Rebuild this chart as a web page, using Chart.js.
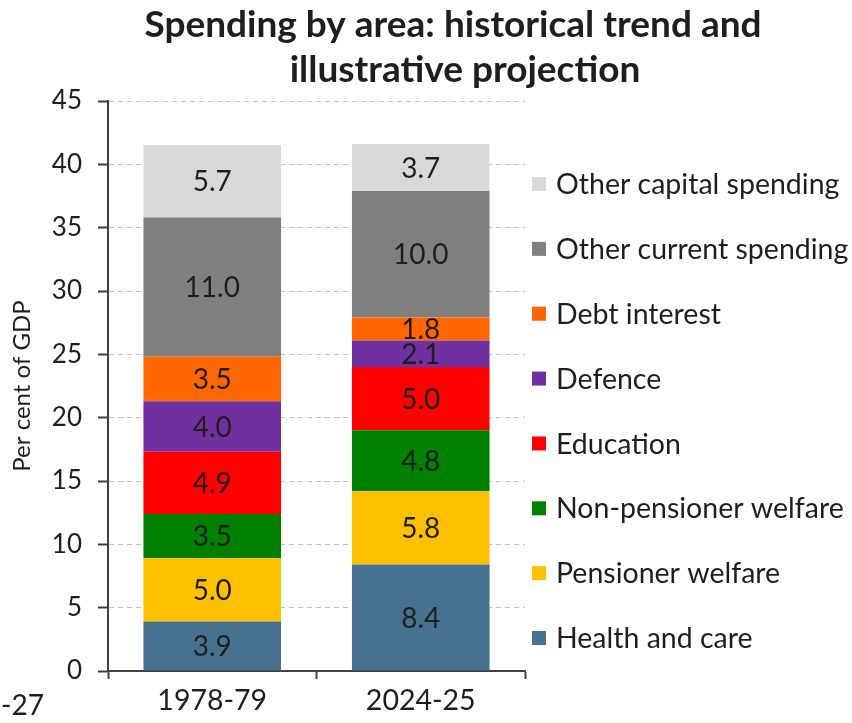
<!DOCTYPE html>
<html><head><meta charset="utf-8">
<script src="https://cdn.jsdelivr.net/npm/chart.js@4.4.1/dist/chart.umd.min.js"></script>
<style>html,body{margin:0;padding:0;background:#fff}#wrap{width:852px;height:723px}</style>
</head><body><div id="wrap"><canvas id="c" width="852" height="723"></canvas></div>
<script>
const categories = ['1978-79', '2024-25'];
const seriesNames = ['Health and care', 'Pensioner welfare', 'Non-pensioner welfare', 'Education', 'Defence', 'Debt interest', 'Other current spending', 'Other capital spending'];
const healthAndCare = [3.9, 8.4];
const pensionerWelfare = [5.0, 5.8];
const nonPensionerWelfare = [3.5, 4.8];
const education = [4.9, 5.0];
const defence = [4.0, 2.1];
const debtInterest = [3.5, 1.8];
const otherCurrent = [11.0, 10.0];
const otherCapital = [5.7, 3.7];
const yMin = 0, yMax = 45, yStep = 5;
const titleLines = ['Spending by area: historical trend and', 'illustrative projection'];
const yAxisTitle = 'Per cent of GDP';
const strayLabel = '-27';

const seriesValues = [healthAndCare, pensionerWelfare, nonPensionerWelfare, education, defence, debtInterest, otherCurrent, otherCapital];
const seriesColors = ['#46718F', '#FFC000', '#008000', '#FF0000', '#7030A0', '#FF6600', '#808080', '#D9D9D9'];

const FONT = 'Lato, "Open Sans", sans-serif';
const TEXT = '#1e1e1e';

const valueLabels = {
  id: 'valueLabels',
  afterDatasetsDraw(chart) {
    const ctx = chart.ctx;
    ctx.save();
    ctx.font = '28px ' + FONT;
    ctx.fillStyle = TEXT;
    ctx.textAlign = 'center';
    ctx.textBaseline = 'middle';
    chart.data.datasets.forEach((ds, i) => {
      const meta = chart.getDatasetMeta(i);
      meta.data.forEach((bar, j) => {
        const v = ds.data[j];
        ctx.fillText(v.toFixed(1), bar.x, (bar.y + bar.base) / 2 + 1);
      });
    });
    ctx.restore();
  }
};

const extras = {
  id: 'extras',
  afterDraw(chart) {
    const ctx = chart.ctx;
    ctx.save();
    // title
    ctx.fillStyle = TEXT;
    ctx.font = 'bold 37px ' + FONT;
    ctx.textAlign = 'center';
    ctx.textBaseline = 'middle';
    ctx.fillText(titleLines[0], 453, 25);
    ctx.fillText(titleLines[1], 465, 70);
    // legend
    ctx.font = '28.5px ' + FONT;
    ctx.textAlign = 'left';
    const n = chart.data.datasets.length;
    for (let k = 0; k < n; k++) {
      const ds = chart.data.datasets[n - 1 - k];
      const y = 184 + k * 64.86;
      ctx.fillStyle = ds.backgroundColor;
      ctx.fillRect(532, y - 7, 14, 14);
      ctx.fillStyle = TEXT;
      ctx.fillText(ds.label, 556, y + 1);
    }
    // stray cropped label from neighbouring chart
    ctx.font = '28px ' + FONT;
    ctx.textAlign = 'left';
    ctx.fillText(strayLabel, 1, 706);
    ctx.restore();
  }
};

new Chart(document.getElementById('c'), {
  type: 'bar',
  data: {
    labels: categories,
    datasets: seriesNames.map((name, i) => ({
      label: name,
      data: seriesValues[i],
      backgroundColor: seriesColors[i],
      borderWidth: 0,
      categoryPercentage: 1,
      barPercentage: 0.66
    }))
  },
  options: {
    responsive: false,
    animation: false,
    events: [],
    layout: { padding: { top: 101, right: 327, left: 0, bottom: 0 } },
    plugins: { legend: { display: false }, title: { display: false }, tooltip: { enabled: false } },
    scales: {
      x: {
        stacked: true,
        afterFit(s) { s.height = 52; },
        grid: { display: true, drawOnChartArea: false, drawTicks: true, tickLength: 8, tickColor: '#404040', tickWidth: 2, offset: true },
        border: { display: true, color: '#404040', width: 2 },
        ticks: { color: TEXT, font: { family: FONT, size: 28.5 }, padding: 5 }
      },
      y: {
        stacked: true,
        min: yMin, max: yMax,
        afterFit(s) { s.width = 108; },
        grid: { color: '#c4c4c4', lineWidth: 1, drawTicks: true, tickLength: 10, tickColor: '#404040', tickWidth: 2 },
        border: { display: true, color: '#404040', width: 2, dash: [5, 4] },
        ticks: { stepSize: yStep, color: TEXT, font: { family: FONT, size: 26 }, padding: 16 },
        title: { display: true, text: yAxisTitle, color: TEXT, font: { family: FONT, size: 24 }, padding: { top: 8 } }
      }
    }
  },
  plugins: [valueLabels, extras]
});
</script>
</body></html>
